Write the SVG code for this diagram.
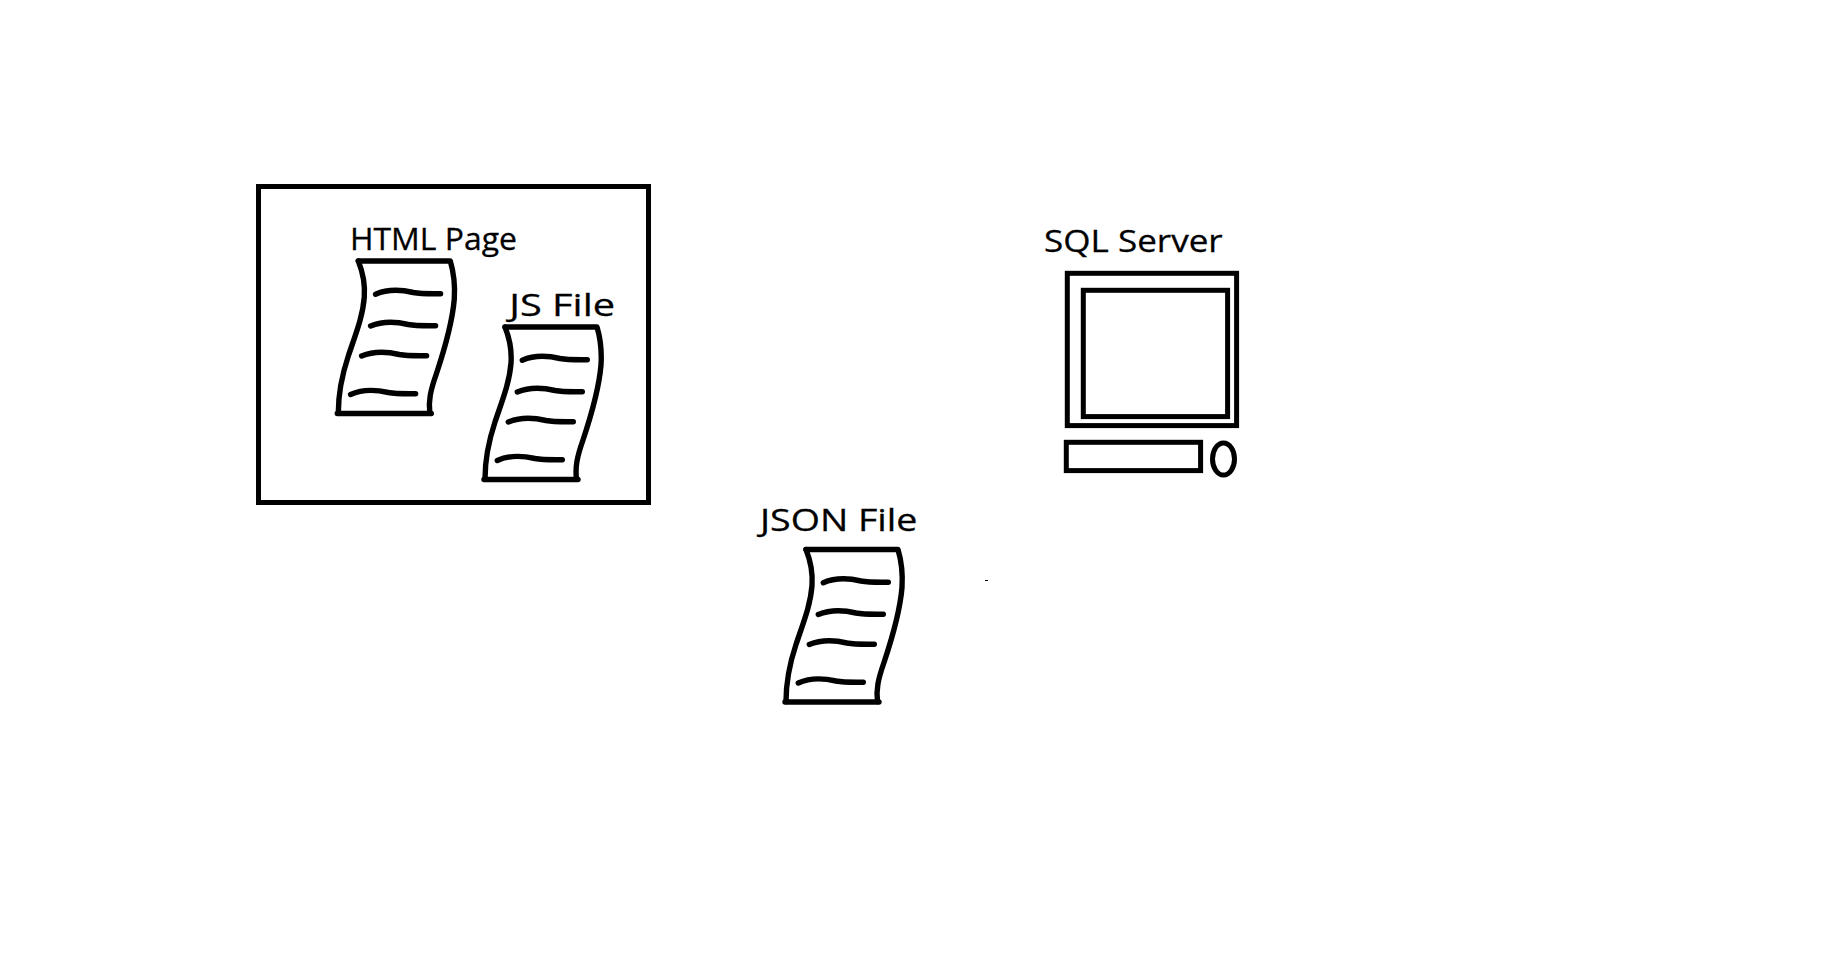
<svg xmlns="http://www.w3.org/2000/svg" width="1837" height="965" viewBox="0 0 1837 965">
<style>
.ink{fill:none;stroke:#000;stroke-width:5}
.doc{fill:none;stroke:#000;stroke-width:5.4;stroke-linecap:round;stroke-linejoin:round}
.label{font-family:"Open Sans","Liberation Sans",sans-serif;font-size:31px;fill:#000;stroke:#000;stroke-width:.3}
</style>
<defs>
<g id="sheet" class="doc">
<path d="M0 0H92C95 10 97 22 96 38C94 62 85 92 78 113C72 130 70 140 71.500 152"/>
<path d="M0 0C4 10 7 22 6 36C4.500 56 -3 74 -10 95C-16 113 -20 130 -20 152"/>
<path d="M-21 152.500H73"/>
<path d="M17.300 33.300C27 29 40 28 55 31.500C63 33 72 32.700 82.300 32.700"/>
<path d="M12.300 65C22 61 35 60 50 63.500C58 65 67 64.700 77.300 64.700"/>
<path d="M3.300 95C13 91 26 90 41 93.500C49 95 58 94.700 68.300 94.700"/>
<path d="M-7.700 133.500C2 129 15 128 30 131.500C38 133 47 132.700 57.300 132.700"/>
</g>
</defs>
<rect width="1837" height="965" fill="#fff"/>
<g id="browser"><rect class="ink" x="258.500" y="186.500" width="390" height="316"/></g>
<g id="html-page">
<text class="label" x="350" y="250" textLength="167" lengthAdjust="spacingAndGlyphs">HTML Page</text>
<use href="#sheet" x="358.300" y="261"/>
</g>
<g id="js-file">
<text class="label" x="509.300" y="316" textLength="105.700" lengthAdjust="spacingAndGlyphs">JS File</text>
<use href="#sheet" x="505" y="327"/>
</g>
<g id="json-file">
<text class="label" x="760" y="531" textLength="157.400" lengthAdjust="spacingAndGlyphs">JSON File</text>
<use href="#sheet" x="806" y="549.500"/>
</g>
<g id="sql-server">
<text class="label" x="1044" y="251.500" textLength="178.700" lengthAdjust="spacingAndGlyphs">SQL Server</text>
<rect class="ink" x="1067.300" y="273.300" width="169.300" height="152.300"/>
<rect class="ink" x="1083.300" y="290.300" width="144.300" height="126.300"/>
<rect class="ink" x="1066.300" y="442.300" width="134.300" height="28.300"/>
<ellipse class="ink" cx="1229.500" cy="459" rx="11" ry="16" transform="translate(-6 0)"/>
</g>
<g id="connectors"></g>
<rect x="985" y="580" width="3" height="1" fill="#000"/>
</svg>
